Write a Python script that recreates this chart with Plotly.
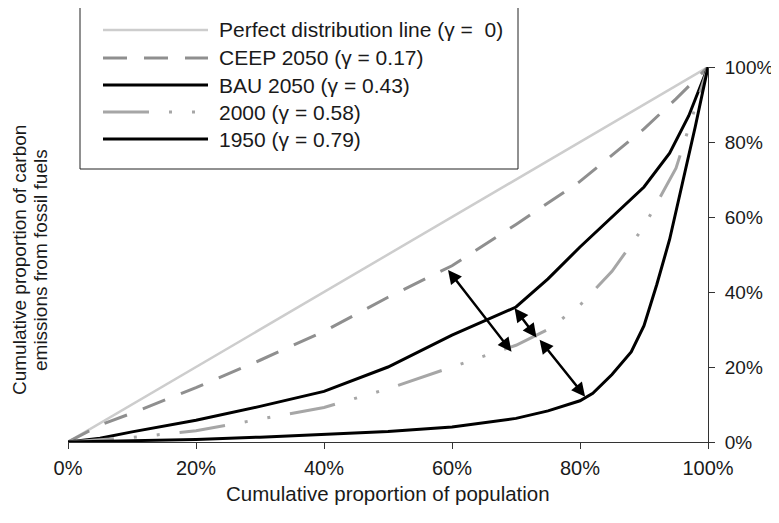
import plotly.graph_objects as go

# ---- data ----
x_perfect = [0.0, 1.0]
y_perfect = [0.0, 1.0]

x_ceep = [0, 0.05, 0.1, 0.2, 0.3, 0.4, 0.5, 0.6, 0.7, 0.8, 0.9, 0.95, 1.0]
y_ceep = [0, 0.045, 0.077, 0.145, 0.218, 0.295, 0.386, 0.47, 0.58, 0.695, 0.835, 0.915, 1.0]

x_bau = [0, 0.05, 0.1, 0.2, 0.3, 0.4, 0.5, 0.6, 0.7, 0.75, 0.8, 0.85, 0.9, 0.94, 0.97, 1.0]
y_bau = [0, 0.01, 0.027, 0.058, 0.095, 0.135, 0.2, 0.285, 0.36, 0.435, 0.52, 0.6, 0.68, 0.77, 0.87, 1.0]

x_2000 = [0, 0.1, 0.2, 0.3, 0.4, 0.5, 0.6, 0.7, 0.75, 0.8, 0.85, 0.9, 0.95, 1.0]
y_2000 = [0, 0.012, 0.03, 0.062, 0.092, 0.142, 0.2, 0.258, 0.3, 0.365, 0.455, 0.575, 0.73, 1.0]

x_1950 = [0, 0.1, 0.2, 0.3, 0.4, 0.5, 0.6, 0.7, 0.75, 0.8, 0.82, 0.85, 0.88, 0.9, 0.92, 0.94, 0.96, 0.98, 1.0]
y_1950 = [0, 0.003, 0.007, 0.013, 0.02, 0.028, 0.04, 0.063, 0.083, 0.11, 0.13, 0.18, 0.24, 0.31, 0.42, 0.54, 0.69, 0.84, 1.0]

series_names = [
    "Perfect distribution line (\u03b3 =  0)",
    "CEEP 2050 (\u03b3 = 0.17)",
    "BAU 2050 (\u03b3 = 0.43)",
    "2000 (\u03b3 = 0.58)",
    "1950 (\u03b3 = 0.79)",
]

# double-headed arrows between curves: (x_start, y_start, x_end, y_end)
arrows = [
    (0.592, 0.463, 0.693, 0.241),
    (0.696, 0.361, 0.732, 0.279),
    (0.735, 0.277, 0.808, 0.121),
]

tick_vals = [0, 0.2, 0.4, 0.6, 0.8, 1.0]
tick_text = ["0%", "20%", "40%", "60%", "80%", "100%"]

# ---- styles ----
FONT = "Liberation Sans, Arial, Helvetica, sans-serif"
TXT = "#1a1a1a"
styles = [
    dict(color="#cdcdcd", width=2.5, dash="solid"),
    dict(color="#8f8f8f", width=3, dash="24px,17px"),
    dict(color="#000000", width=3, dash="solid"),
    dict(color="#a6a6a6", width=3, dash="46px,20px,3px,20px,3px,20px"),
    dict(color="#000000", width=3, dash="solid"),
]
xs = [x_perfect, x_ceep, x_bau, x_2000, x_1950]
ys = [y_perfect, y_ceep, y_bau, y_2000, y_1950]

fig = go.Figure()
for xv, yv, nm, st in zip(xs, ys, series_names, styles):
    fig.add_trace(go.Scatter(x=xv, y=yv, mode="lines", name=nm,
                             line=dict(color=st["color"], width=st["width"], dash=st["dash"]),
                             showlegend=False))

# page has an 8px body margin; figure coordinates = page coordinates - 8
OFF = 8
W, H = 779 - OFF, 523 - OFF
# plot area in page pixels
L, R, T, B = 68, 708, 67, 442


def px(xp):
    return (xp - L) / (R - L)


def py(yp):
    return (B - yp) / (B - T)


shapes = []
annotations = []

# manual legend
shapes.append(dict(type="rect", xref="paper", yref="paper",
                   x0=px(80), x1=px(518), y0=py(169), y1=py(5),
                   line=dict(color="#222222", width=1), fillcolor="white", layer="above"))
row_y = [30, 58, 85, 112, 139]
for ry, nm, st in zip(row_y, series_names, styles):
    shapes.append(dict(type="line", xref="paper", yref="paper",
                       x0=px(103), x1=px(208), y0=py(ry), y1=py(ry),
                       line=dict(color=st["color"], width=st["width"], dash=st["dash"]),
                       layer="above"))
    annotations.append(dict(xref="paper", yref="paper", x=px(217), y=py(ry),
                            xanchor="left", yanchor="middle", showarrow=False,
                            text=nm, font=dict(family=FONT, size=21, color=TXT)))

# arrows
for (x0, y0, x1, y1) in arrows:
    annotations.append(dict(x=x1, y=y1, ax=x0, ay=y0, xref="x", yref="y",
                            axref="x", ayref="y", text="", showarrow=True,
                            arrowside="end+start", arrowhead=2, startarrowhead=2,
                            arrowsize=1.1, startarrowsize=1.1, arrowwidth=2.5,
                            arrowcolor="#000000", standoff=0, startstandoff=0))

# axis titles
annotations.append(dict(xref="paper", yref="paper", x=px(388), y=py(493),
                        xanchor="center", yanchor="middle", showarrow=False,
                        text="Cumulative proportion of population",
                        font=dict(family=FONT, size=20.5, color=TXT)))
for lx, txt in [(20, "Cumulative proportion of carbon"), (41, "emissions from fossil fuels")]:
    annotations.append(dict(xref="paper", yref="paper", x=px(lx), y=py(260),
                            xanchor="center", yanchor="middle", showarrow=False,
                            textangle=-90, text=txt,
                            font=dict(family=FONT, size=19, color=TXT)))

fig.update_layout(
    width=W, height=H,
    margin=dict(l=L - OFF, r=W - (R - OFF), t=T - OFF, b=H - (B - OFF), pad=0,
                autoexpand=False),
    paper_bgcolor="white", plot_bgcolor="white",
    font=dict(family=FONT, size=20, color=TXT),
    shapes=shapes, annotations=annotations,
    showlegend=False,
    xaxis=dict(range=[0, 1], tickvals=tick_vals, ticktext=tick_text,
               showgrid=False, zeroline=False, showline=True, linecolor="#333333",
               linewidth=1, ticks="outside", ticklen=6, tickcolor="#333333",
               automargin=False,
               ticklabelstandoff=2, tickfont=dict(size=20, color=TXT)),
    yaxis=dict(range=[0, 1], tickvals=tick_vals, ticktext=tick_text, side="right",
               showgrid=False, zeroline=False, showline=True, linecolor="#333333",
               linewidth=1, ticks="outside", ticklen=6, tickcolor="#333333",
               automargin=False,
               ticklabelstandoff=6, tickfont=dict(size=19, color=TXT)),
)

fig.write_html("out.html")
